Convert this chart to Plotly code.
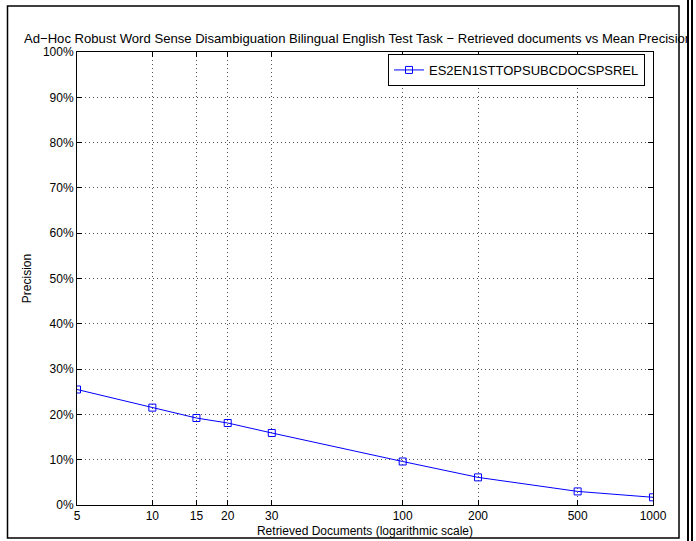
import plotly.graph_objects as go

docs = [5, 10, 15, 20, 30, 100, 200, 500, 1000]
precision = [25.5, 21.5, 19.2, 18.1, 15.9, 9.6, 6.1, 3.0, 1.7]
series_name = "ES2EN1STTOPSUBCDOCSPSREL"
x_ticks = [5, 10, 15, 20, 30, 100, 200, 500, 1000]
y_ticks = [0, 10, 20, 30, 40, 50, 60, 70, 80, 90, 100]
title_text = "Ad\u2212Hoc Robust Word Sense Disambiguation Bilingual English Test Task \u2212 Retrieved documents vs Mean Precision"

W, H = 696, 541
L, R, T, B = 77, 653, 52, 505
pw, ph = R - L, B - T

def px(x):
    return (x - L) / pw

def py(y):
    return (B - y) / ph

FAM = "Liberation Sans, Arial, sans-serif"
font = dict(family=FAM, size=12, color="black")

fig = go.Figure()
fig.add_trace(go.Scatter(
    x=docs, y=precision, mode="lines+markers", name=series_name,
    line=dict(color="#0000ff", width=1),
    marker=dict(symbol="square-open", size=7, color="#0000ff", line=dict(width=1, color="#0000ff")),
))

grid = dict(showgrid=True, gridcolor="#555555", gridwidth=1, griddash="1px,3px")

fig.update_xaxes(
    type="log", range=[0.69897, 3.0], tickvals=x_ticks, ticktext=[str(v) for v in x_ticks],
    ticks="inside", ticklen=5, tickcolor="black", showline=True, linecolor="black", linewidth=1,
    mirror="ticks", zeroline=False, tickfont=font,
    title=dict(text="Retrieved Documents (logarithmic scale)", font=font, standoff=4),
    **grid,
)
fig.update_yaxes(
    range=[0, 100], tickvals=y_ticks, ticktext=[f"{v}%" for v in y_ticks],
    ticks="inside", ticklen=5, tickcolor="black", showline=True, linecolor="black", linewidth=1,
    mirror="ticks", zeroline=False, tickfont=font,
    title=dict(text="Precision", font=font, standoff=8),
    **grid,
)

shapes = [
    dict(type="rect", xref="paper", yref="paper", x0=px(7.5), x1=px(679), y0=py(6), y1=py(538),
         line=dict(color="black", width=1.5), fillcolor="rgba(0,0,0,0)", layer="below"),
]

annotations = [
    dict(text=title_text, xref="paper", yref="paper", x=px(22), y=py(38),
         xanchor="left", yanchor="middle", showarrow=False,
         font=dict(family=FAM, size=13.1, color="black")),
    # window edge: white band with black borders drawn above the title
    dict(text=" ", xref="paper", yref="paper", x=px(689.5), y=0.5, xanchor="center", yanchor="middle",
         showarrow=False, width=1.5, height=H + 40, bgcolor="white", bordercolor="black",
         borderwidth=2, borderpad=0, font=dict(size=1)),
    dict(text=" ", xref="paper", yref="paper", x=px(697), y=0.5, xanchor="center", yanchor="middle",
         showarrow=False, width=8, height=H + 40, bgcolor="white", borderwidth=0, borderpad=0,
         font=dict(size=1)),
]

fig.update_layout(
    width=W, height=H, margin=dict(l=L, r=W - R, t=T, b=H - B, autoexpand=False),
    paper_bgcolor="white", plot_bgcolor="white", font=font,
    shapes=shapes, annotations=annotations,
    showlegend=True,
    legend=dict(x=px(645), y=py(54), xanchor="right", yanchor="top", bgcolor="white",
                bordercolor="black", borderwidth=1, font=dict(family=FAM, size=13, color="black"),
                tracegroupgap=0, itemwidth=30),
)

fig.write_html("out.html", config={"displayModeBar": False},
               post_script="document.body.style.margin='0';document.body.style.overflow='hidden';")
